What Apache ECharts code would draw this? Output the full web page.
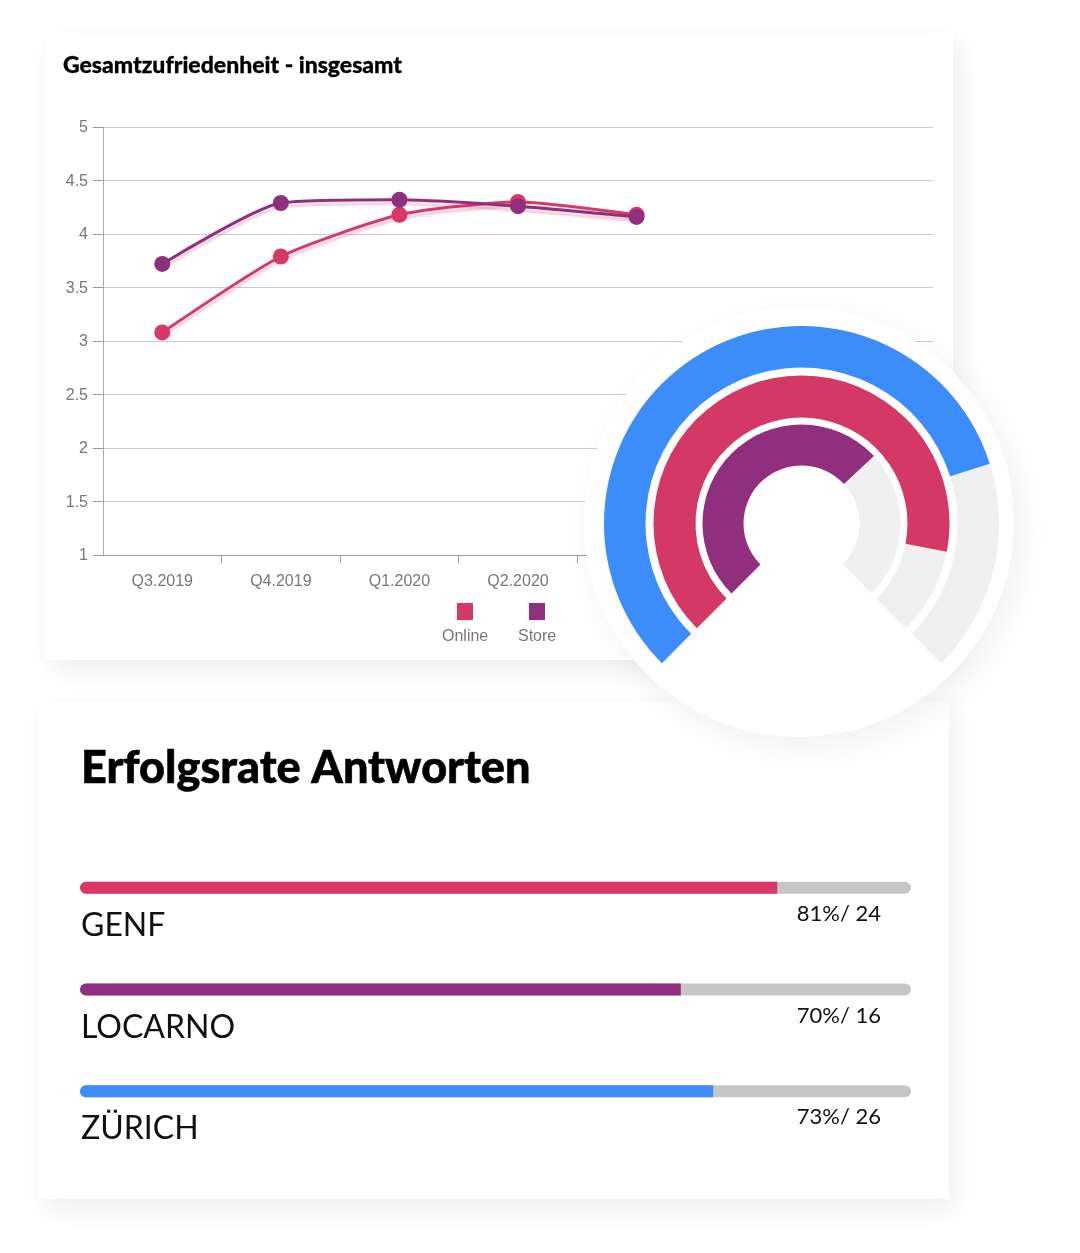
<!DOCTYPE html>
<html>
<head>
<meta charset="utf-8">
<title>Gesamtzufriedenheit</title>
<script src="https://cdn.jsdelivr.net/npm/echarts@6/dist/echarts.min.js"></script>
<style>
    html, body { margin: 0; padding: 0; background: #fff; }
    #page { position: relative; width: 1080px; height: 1253px; overflow: hidden; }
    .card { position: absolute; background: #fff; box-shadow: 6px 10px 26px rgba(0, 0, 0, .07); }
    #card1 { left: 46px; top: 33px; width: 907px; height: 627px; z-index: 1; }
    #card2 { left: 39px; top: 702px; width: 910px; height: 497px; z-index: 2; }
    #ring { position: absolute; left: 584px; top: 307px; width: 430px; height: 430px; border-radius: 50%;
        background: #fff; box-shadow: 8px 10px 36px rgba(0, 0, 0, .06); z-index: 3; }
</style>
</head>
<body>
<div id="page">
    <div id="card1" class="card"></div>
    <div id="card2" class="card"></div>
    <div id="ring"></div>
</div>
<script>
var ONLINE = '#d83865', STORE = '#8f2f7e', BLUE = '#3c8df9';

// Linienchart
var myChartLine = echarts.init(document.getElementById('card1'));
var optionLine = {
    animation: false,
    title: {
        text: 'Gesamtzufriedenheit - insgesamt',
        left: 12,
        top: 16,
        textStyle: { fontFamily: 'Lato', fontWeight: 900, fontSize: 23, color: '#000', textBorderColor: '#000', textBorderWidth: 0.3 }
    },
    grid: { left: 57, right: 20, top: 94, bottom: 105 },
    legend: [
        { left: 406, top: 565, itemWidth: 16, itemHeight: 17, icon: 'rect', formatter: function () { return ''; }, data: ['Online'] },
        { left: 478, top: 565, itemWidth: 16, itemHeight: 17, icon: 'rect', formatter: function () { return ''; }, data: ['Store'] }
    ],
    graphic: [
        { type: 'text', left: 396, top: 596, style: { text: 'Online', fontFamily: 'Liberation Sans', fontSize: 16, fill: '#777' } },
        { type: 'text', left: 472, top: 596, style: { text: 'Store', fontFamily: 'Liberation Sans', fontSize: 16, fill: '#777' } }
    ],
    xAxis: {
        type: 'category',
        data: ['Q3.2019', 'Q4.2019', 'Q1.2020', 'Q2.2020', 'Q3.2020', '', ''],
        axisLine: { lineStyle: { color: '#999' } },
        axisTick: { show: true, length: 8, interval: function (i) { return i > 0; }, lineStyle: { color: '#999' } },
        axisLabel: { margin: 19, fontFamily: 'Liberation Sans', fontSize: 16, color: '#777' }
    },
    yAxis: {
        type: 'value',
        min: 1,
        max: 5,
        interval: 0.5,
        axisLine: { show: true, lineStyle: { color: '#aaa' } },
        axisTick: { show: true, length: 10, lineStyle: { color: '#999' } },
        axisLabel: { margin: 15, verticalAlign: 'top', lineHeight: 16, padding: [-7, 0, 0, 0], fontFamily: 'Liberation Sans', fontSize: 16, color: '#777' },
        splitLine: { lineStyle: { color: '#ccc' } }
    },
    series: [{
        name: 'Online',
        type: 'line',
        data: [3.08, 3.79, 4.18, 4.30, 4.18],
        smooth: 0.2,
        symbol: 'circle',
        symbolSize: 16,
        lineStyle: { color: ONLINE, width: 3, shadowColor: 'rgba(200, 60, 120, .25)', shadowOffsetY: 4, shadowBlur: 2 },
        itemStyle: { color: ONLINE }
    }, {
        name: 'Store',
        type: 'line',
        data: [3.72, 4.29, 4.32, 4.26, 4.16],
        smooth: 0.2,
        symbol: 'circle',
        symbolSize: 16,
        lineStyle: { color: STORE, width: 3, shadowColor: 'rgba(200, 60, 120, .25)', shadowOffsetY: 4, shadowBlur: 2 },
        itemStyle: { color: STORE }
    }]
};
myChartLine.setOption(optionLine);

// Balken
var cities = [
    { name: 'GENF', fill: 83.9, text: '81%/ 24', color: ONLINE },
    { name: 'LOCARNO', fill: 72.3, text: '70%/ 16', color: STORE },
    { name: 'ZÜRICH', fill: 76.2, text: '73%/ 26', color: BLUE }
];
var myChartBar = echarts.init(document.getElementById('card2'));
var optionBar = {
    animation: false,
    title: {
        text: 'Erfolgsrate Antworten',
        left: 37,
        top: 39,
        textStyle: { fontFamily: 'Lato', fontWeight: 900, fontSize: 45, color: '#000', textBorderColor: '#000', textBorderWidth: 0.6 }
    },
    grid: { left: 41, right: 38, top: 135, height: 305 },
    xAxis: { type: 'value', min: 0, max: 100, show: false },
    yAxis: { type: 'category', inverse: true, show: false, data: cities.map(function (c) { return c.name; }) },
    series: [{
        name: 'Gesamt',
        type: 'bar',
        barWidth: 12,
        barGap: '-100%',
        silent: true,
        data: [100, 100, 100],
        itemStyle: { color: '#c6c6c6', borderRadius: 6 },
        label: {
            show: true,
            position: 'insideRight',
            offset: [-25, 26],
            fontFamily: 'Lato',
            fontSize: 22,
            color: '#111',
            formatter: function (p) { return cities[p.dataIndex].text; }
        }
    }, {
        name: 'Erfolgsrate',
        type: 'bar',
        barWidth: 12,
        data: cities.map(function (c) {
            return { value: c.fill, itemStyle: { color: c.color, borderRadius: [6, 0, 0, 6] } };
        }),
        label: {
            show: true,
            position: [1, 28],
            fontFamily: 'Lato',
            fontSize: 32,
            color: '#111',
            formatter: '{b}'
        }
    }]
};
myChartBar.setOption(optionBar);

// Ringe
function ringSerie(name, radius, width, value, color) {
    return {
        name: name,
        type: 'gauge',
        center: [217.5, 216.5],
        radius: radius,
        startAngle: 225,
        endAngle: -45,
        min: 0,
        max: 100,
        pointer: { show: false },
        anchor: { show: false },
        axisTick: { show: false },
        splitLine: { show: false },
        axisLabel: { show: false },
        title: { show: false },
        detail: { show: false },
        axisLine: { lineStyle: { width: width, color: [[1, '#f0f0f0']] } },
        progress: { show: true, width: width, itemStyle: { color: color } },
        data: [{ value: value }]
    };
}
var myChartRing = echarts.init(document.getElementById('ring'));
myChartRing.setOption({
    animation: false,
    series: [
        ringSerie('Zürich', 197.5, 41.5, 76.8, BLUE),
        ringSerie('Genf', 148, 42, 87.4, '#d43864'),
        ringSerie('Locarno', 99, 41, 67.4, STORE)
    ]
});
</script>
</body>
</html>
